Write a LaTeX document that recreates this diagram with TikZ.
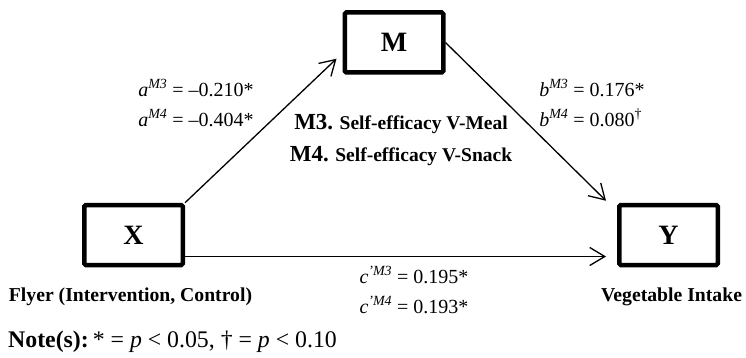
\documentclass[tikz,border=0pt]{standalone}
\usepackage{fontspec}
\setmainfont{Liberation Serif}
\usetikzlibrary{arrows.meta}
\begin{document}
\begin{tikzpicture}[x=1pt,y=-1pt,
  varbox/.style={draw, line width=4.5pt, rounded corners=1.5pt,
    minimum width=98.5pt, minimum height=60pt, inner sep=0pt,
    font=\fontsize{28}{28}\selectfont\bfseries},
  link/.style={line width=1.3pt,
    -{Straight Barb[length=15pt,width=18pt,line width=1.3pt]}},
  coef/.style={font=\fontsize{20}{30}\selectfont, align=left, inner sep=0pt},
  caption/.style={font=\fontsize{19.7}{24}\selectfont\bfseries, inner sep=0pt}
]
\useasboundingbox (0,0) rectangle (746,358);

% variables
\node[varbox] (X) at (133.5,235) {X};
\node[varbox] (M) at (394,42.5) {M};
\node[varbox] (Y) at (668.5,235) {Y};

% arrow end points
\coordinate (mtip) at ([xshift=-6pt,yshift=16pt]M.south west);
\coordinate (ytip) at ([xshift=-11pt,yshift=2pt]Y.north west);
\coordinate (ctip) at ([xshift=-11pt,yshift=-21.5pt]Y.west);

% paths
\draw[link] (X.north east) -- (mtip);
\draw[link] (M.east) -- (ytip);
\draw[link] (ctip -| X.east) -- (ctip);

% coefficients
\node[coef] (alab) at (196,103)
  {\textit{a}\textsuperscript{\textit{M3}} = –0.210*\\
   \textit{a}\textsuperscript{\textit{M4}} = –0.404*};
\node[coef] (blab) at (592,103)
  {\textit{b}\textsuperscript{\textit{M3}} = 0.176*\\
   \textit{b}\textsuperscript{\textit{M4}} = 0.080\textsuperscript{†}};
\node[coef] (clab) at (414,290)
  {\textit{c}\textsuperscript{\textit{'M3}} = 0.195*\\
   \textit{c}\textsuperscript{\textit{'M4}} = 0.193*};

% mediators
\node[font=\fontsize{19.5}{32}\selectfont\bfseries, align=center, inner sep=0pt]
  (mtext) at (401,140)
  {{\fontsize{23}{32}\selectfont M3.} Self-efficacy V-Meal\\
   {\fontsize{23}{32}\selectfont M4.} Self-efficacy V-Snack};

% variable captions
\node[caption] (xcap) at (130.5,297) {Flyer (Intervention, Control)};
\node[caption] (ycap) at (671.5,297) {Vegetable Intake};

% note
\node[anchor=west, font=\fontsize{23.8}{24}\selectfont, inner sep=0pt] (note) at (8,342)
  {\textbf{Note(s):}\,* = \textit{p} < 0.05, † = \textit{p} < 0.10};
\end{tikzpicture}
\end{document}
